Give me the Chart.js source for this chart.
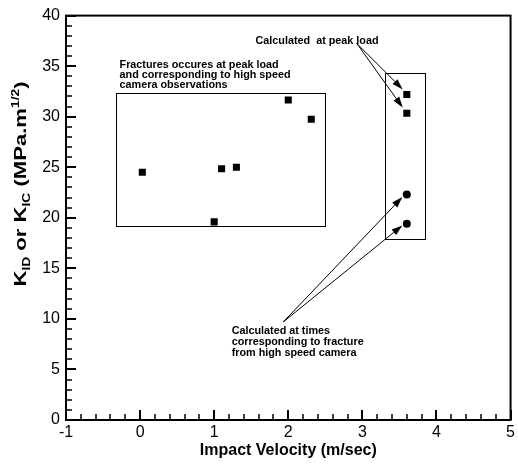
<!DOCTYPE html>
<html>
<head>
<meta charset="utf-8">
<script src="https://cdn.jsdelivr.net/npm/chart.js@4"></script>
<style>
  html, body { margin: 0; padding: 0; background: #fff; }
  #wrap { width: 518px; height: 468px; }
</style>
</head>
<body>
<div id="wrap"><canvas id="kChart" width="518" height="468"></canvas></div>
<script>
// Wartosci
const obsVelocity = [0.03, 1.0, 1.1, 1.3, 2.0, 2.31];
const obsK = [24.5, 19.6, 24.85, 25.0, 31.65, 29.75];
const peakVelocity = [3.6, 3.6];
const peakK = [32.2, 30.35];
const cameraVelocity = [3.6, 3.6];
const cameraK = [22.3, 19.4];
const xTicks = [-1, 0, 1, 2, 3, 4, 5];
const yTicks = [0, 5, 10, 15, 20, 25, 30, 35, 40];

const FONT = '"Liberation Sans", Arial, sans-serif';

// Adnotacje (ramki, strzalki, teksty) w jednostkach osi
const boxes = [
  { x1: -0.33, x2: 2.495, y1: 19.15, y2: 32.35 },
  { x1: 3.303, x2: 3.845, y1: 17.9, y2: 34.3 }
];
const arrows = [
  { from: [2.924, 37.25], to: [3.545, 32.7] },
  { from: [2.924, 37.25], to: [3.545, 30.9] },
  { from: [1.933, 9.7], to: [3.54, 22.05] },
  { from: [1.933, 9.7], to: [3.54, 19.25] }
];
const notes = [
  { x: -0.277, y: 34.85, dy: 10, lines: ['Fractures occures at peak load', 'and corresponding to high speed', 'camera observations'] },
  { x: 1.558, y: 37.2, dy: 10, lines: ['Calculated  at peak load'] },
  { x: 1.236, y: 8.55, dy: 11.3, lines: ['Calculated at times', 'corresponding to fracture', 'from high speed camera'] }
];

function toPoints(xs, ys) {
  return xs.map((x, i) => ({ x: x, y: ys[i] }));
}

const framePlugin = {
  id: 'framePlugin',
  afterDraw(chart) {
    const ctx = chart.ctx;
    const xs = chart.scales.x, ys = chart.scales.y;
    const a = chart.chartArea;
    ctx.save();
    // ramka wykresu
    ctx.strokeStyle = '#000';
    ctx.lineWidth = 2;
    ctx.strokeRect(a.left, a.top, a.right - a.left, a.bottom - a.top);
    // znaczniki osi Y (do srodka)
    for (let v = 0; v <= 40; v += 1) {
      const py = Math.round(ys.getPixelForValue(v));
      const major = v % 5 === 0;
      ctx.lineWidth = major ? 2 : 1.5;
      ctx.beginPath();
      ctx.moveTo(a.left, py);
      ctx.lineTo(a.left + (major ? 10 : 6), py);
      ctx.stroke();
    }
    // znaczniki osi X
    for (let i = -5; i <= 25; i++) {
      const v = i / 5;
      const px = Math.round(xs.getPixelForValue(v));
      const major = i % 5 === 0;
      ctx.lineWidth = major ? 2 : 1.5;
      ctx.beginPath();
      ctx.moveTo(px, a.bottom);
      ctx.lineTo(px, a.bottom - (major ? 10 : 6));
      ctx.stroke();
    }
    // ramki
    ctx.lineWidth = 1;
    boxes.forEach(b => {
      const x1 = xs.getPixelForValue(b.x1), x2 = xs.getPixelForValue(b.x2);
      const y1 = ys.getPixelForValue(b.y1), y2 = ys.getPixelForValue(b.y2);
      ctx.strokeRect(Math.round(x1) + 0.5, Math.round(y2) + 0.5, Math.round(x2 - x1), Math.round(y1 - y2));
    });
    // strzalki
    arrows.forEach(ar => {
      const x0 = xs.getPixelForValue(ar.from[0]), y0 = ys.getPixelForValue(ar.from[1]);
      const x1 = xs.getPixelForValue(ar.to[0]), y1 = ys.getPixelForValue(ar.to[1]);
      const ang = Math.atan2(y1 - y0, x1 - x0);
      const len = 11, half = 3.5;
      const bx = x1 - len * Math.cos(ang), by = y1 - len * Math.sin(ang);
      ctx.lineWidth = 1;
      ctx.beginPath();
      ctx.moveTo(x0, y0);
      ctx.lineTo(bx, by);
      ctx.stroke();
      ctx.fillStyle = '#000';
      ctx.beginPath();
      ctx.moveTo(x1, y1);
      ctx.lineTo(bx + half * Math.sin(ang), by - half * Math.cos(ang));
      ctx.lineTo(bx - half * Math.sin(ang), by + half * Math.cos(ang));
      ctx.closePath();
      ctx.fill();
    });
    // teksty
    ctx.fillStyle = '#000';
    ctx.font = 'bold 10.8px ' + FONT;
    ctx.textAlign = 'left';
    ctx.textBaseline = 'alphabetic';
    notes.forEach(n => {
      const px = xs.getPixelForValue(n.x), py = ys.getPixelForValue(n.y);
      n.lines.forEach((t, i) => ctx.fillText(t, px, py + i * n.dy));
    });
    // tytul osi Y z indeksami (rozciagniety jak w oryginale)
    const parts = [
      { t: 'K', s: 16, o: 0 },
      { t: 'ID', s: 10, o: 4 },
      { t: ' or K', s: 16, o: 0 },
      { t: 'IC', s: 10, o: 4 },
      { t: ' (MPa.m', s: 16, o: 0 },
      { t: '1/2', s: 10, o: -7 },
      { t: ')', s: 16, o: 0 }
    ];
    let total = 0;
    parts.forEach(p => { ctx.font = 'bold ' + p.s + 'px ' + FONT; p.w = ctx.measureText(p.t).width; total += p.w; });
    ctx.translate(25.5, 184);
    ctx.rotate(-Math.PI / 2);
    ctx.scale(1.38, 1);
    let cx = -total / 2;
    parts.forEach(p => {
      ctx.font = 'bold ' + p.s + 'px ' + FONT;
      ctx.fillText(p.t, cx, p.o);
      cx += p.w;
    });
    ctx.restore();
  }
};

const kChart = new Chart(document.getElementById('kChart').getContext('2d'), {
  type: 'scatter',
  data: {
    datasets: [
      {
        label: 'Fractures (high speed camera)',
        data: toPoints(obsVelocity, obsK),
        pointStyle: 'rect',
        pointRadius: 5,
        backgroundColor: '#000',
        borderColor: '#000',
        borderWidth: 0
      },
      {
        label: 'Calculated at peak load',
        data: toPoints(peakVelocity, peakK),
        pointStyle: 'rect',
        pointRadius: 5,
        backgroundColor: '#000',
        borderColor: '#000',
        borderWidth: 0
      },
      {
        label: 'Calculated at fracture times',
        data: toPoints(cameraVelocity, cameraK),
        pointStyle: 'circle',
        pointRadius: 4,
        backgroundColor: '#000',
        borderColor: '#000',
        borderWidth: 0
      }
    ]
  },
  options: {
    responsive: false,
    animation: false,
    layout: { padding: { top: 11, right: 4, left: 0, bottom: 0 } },
    plugins: { legend: { display: false }, tooltip: { enabled: false } },
    scales: {
      x: {
        type: 'linear',
        min: -1,
        max: 5,
        afterBuildTicks: s => { s.ticks = xTicks.map(v => ({ value: v })); },
        afterFit: s => { s.height = 48; },
        grid: { display: false, drawTicks: false },
        border: { display: false },
        ticks: { color: '#000', font: { family: FONT, size: 16 }, padding: 3, maxRotation: 0 },
        title: { display: true, text: 'Impact Velocity (m/sec)', color: '#000', font: { family: FONT, size: 16, weight: 'bold' }, padding: { top: 0, bottom: 8 } }
      },
      y: {
        type: 'linear',
        min: 0,
        max: 40,
        afterBuildTicks: s => { s.ticks = yTicks.map(v => ({ value: v })); },
        afterFit: s => { s.width = 66; },
        grid: { display: false, drawTicks: false },
        border: { display: false },
        ticks: { color: '#000', font: { family: FONT, size: 16 }, padding: 6 }
      }
    }
  },
  plugins: [framePlugin]
});
</script>
</body>
</html>
